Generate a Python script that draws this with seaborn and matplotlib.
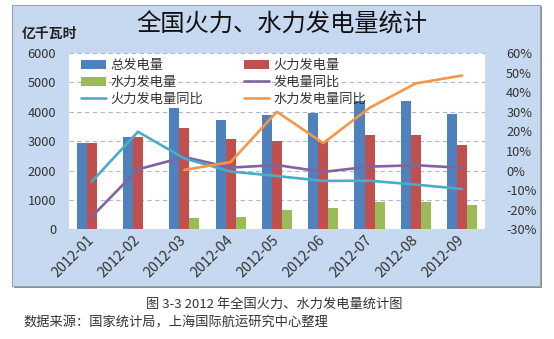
import numpy as np
import pandas as pd
import seaborn as sns
import matplotlib
matplotlib.use('Agg')
import matplotlib.pyplot as plt
from matplotlib.patches import Patch, Rectangle
from matplotlib.lines import Line2D
from matplotlib.ticker import FuncFormatter, MultipleLocator

months = ['2012-01', '2012-02', '2012-03', '2012-04', '2012-05',
          '2012-06', '2012-07', '2012-08', '2012-09']
total = [2950, 3140, 4120, 3710, 3900, 3950, 4350, 4375, 3920]
thermal = [2950, 3140, 3460, 3065, 3005, 2955, 3225, 3225, 2865]
hydro = [np.nan, np.nan, 395, 420, 650, 725, 930, 940, 820]
total_yoy = [-23.6, 0.6, 6.9, 1.5, 2.8, -0.7, 2.0, 2.7, 1.4]
thermal_yoy = [-5.7, 19.8, 6.2, -0.5, -2.8, -5.3, -5.2, -7.2, -9.4]
hydro_yoy = [np.nan, np.nan, 0.3, 4.3, 30.0, 14.0, 32.0, 44.5, 48.5]

bar_names = ['总发电量', '火力发电量', '水力发电量']
line_names = ['发电量同比', '火力发电量同比', '水力发电量同比']
bar_colors = ['#4F81BD', '#C0504D', '#9BBB59']
line_colors = ['#8064A2', '#4BACC6', '#F79646']

bars = pd.DataFrame({'month': months * 3,
                     'series': sum([[n] * len(months) for n in bar_names], []),
                     'value': total + thermal + hydro}).dropna()
lines = pd.DataFrame({'pos': list(range(len(months))) * 3,
                      'series': sum([[n] * len(months) for n in line_names], []),
                      'value': total_yoy + thermal_yoy + hydro_yoy}).dropna()

sns.set_theme(style='white')
plt.rcParams['font.family'] = ['Noto Sans CJK SC', 'DejaVu Sans']
plt.rcParams['axes.unicode_minus'] = False

W, H = 554, 339
fig = plt.figure(figsize=(W / 100, H / 100), dpi=100)
fig.patch.set_facecolor('white')

# chart panel
fig.patches.append(Rectangle((14 / W, 1 - 288 / H), 528 / W, 282 / H,
                             transform=fig.transFigure, facecolor='#8F8F8F',
                             edgecolor='none', zorder=-2))
fig.patches.append(Rectangle((12 / W, 1 - 286 / H), 528 / W, 281 / H,
                             transform=fig.transFigure, facecolor='#C6D9F0',
                             edgecolor='#9AA3AE', lw=0.8, zorder=-1))

ax = fig.add_axes([68.5 / W, 1 - 229.3 / H, (485.3 - 68.5) / W, (229.3 - 53) / H])
ax.set_facecolor('white')

sns.barplot(data=bars, x='month', y='value', hue='series', order=months,
            hue_order=bar_names, palette=bar_colors, width=0.65, saturation=1,
            errorbar=None, legend=False, linewidth=0, ax=ax)

ax2 = ax.twinx()
sns.lineplot(data=lines, x='pos', y='value', hue='series', hue_order=line_names,
             palette=line_colors, linewidth=1.9, legend=False, ax=ax2, sort=True)

ax.set_xlim(-0.5, len(months) - 0.5)
ax.set_ylim(0, 6000)
ax.yaxis.set_major_locator(MultipleLocator(1000))
ax2.set_ylim(-30, 60)
ax2.yaxis.set_major_locator(MultipleLocator(10))
ax2.yaxis.set_major_formatter(FuncFormatter(lambda v, p: f'{v:.0f}%'))

ax.set_xlabel('')
ax.set_ylabel('')
ax2.set_xlabel('')
ax2.set_ylabel('')

ax.grid(axis='y', color='#A9B8CC', linestyle=(0, (4, 3)), linewidth=0.8)
ax.set_axisbelow(True)
for a in (ax, ax2):
    for s in a.spines.values():
        s.set_visible(False)

ax.tick_params(axis='y', length=0, pad=9, labelsize=9.2, labelcolor='#333333')
ax2.tick_params(axis='y', length=0, pad=15, labelsize=9.2, labelcolor='#333333')
ax.tick_params(axis='x', length=0, pad=6, labelsize=10.3, labelcolor='#333333')
ax.set_xticks(range(len(months)))
ax.set_xticklabels(months, rotation=45, ha='right', va='center', rotation_mode='anchor')

handles = [Patch(facecolor=c, edgecolor='none') for c in bar_colors] + \
          [Line2D([0], [0], color=c, lw=1.9) for c in line_colors]
labels = bar_names + line_names
handles_r = [handles[0], handles[2], handles[4], handles[1], handles[3], handles[5]]
labels_r = [labels[0], labels[2], labels[4], labels[1], labels[3], labels[5]]
leg = ax2.legend(handles_r, labels_r, ncol=2, loc='upper left',
                 bbox_to_anchor=(0.012, 1.01), frameon=False, fontsize=9.5,
                 handlelength=1.9, handletextpad=0.3, columnspacing=3.1,
                 labelspacing=0.3, borderaxespad=0.2)
for t in leg.get_texts():
    t.set_color('#333333')

fig.text(282 / W, 1 - 25 / H, '全国火力、水力发电量统计', fontsize=17.5,
         ha='center', va='center', color='#111111')
fig.text(22 / W, 1 - 34 / H, '亿千瓦时', fontsize=10, fontweight='bold',
         ha='left', va='center', color='#222222')

fig.text(274 / W, 1 - 304 / H, '图 3-3 2012 年全国火力、水力发电量统计图',
         fontsize=9.5, ha='center', va='center', color='#333333')
fig.text(23 / W, 1 - 323 / H, '数据来源：国家统计局，上海国际航运研究中心整理',
         fontsize=9.5, ha='left', va='center', color='#333333')

fig.savefig('out.png', dpi=100, facecolor='white')
